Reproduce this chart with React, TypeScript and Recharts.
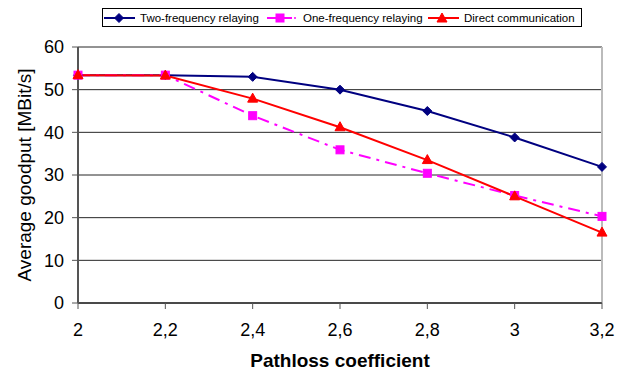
import React from "react";
import { LineChart, Line, XAxis, YAxis, CartesianGrid, ReferenceLine } from "recharts";

const categories = ["2", "2,2", "2,4", "2,6", "2,8", "3", "3,2"];
const twoFrequency = [53.4, 53.4, 53.0, 50.0, 45.0, 38.8, 31.9];
const oneFrequency = [53.4, 53.4, 43.9, 35.9, 30.4, 25.2, 20.3];
const direct = [53.4, 53.3, 47.9, 41.2, 33.5, 25.0, 16.5];
const yTicks = [0, 10, 20, 30, 40, 50, 60];

const data = categories.map((x, i) => ({
  x,
  two: twoFrequency[i],
  one: oneFrequency[i],
  direct: direct[i],
}));

const NAVY = "#000080";
const MAGENTA = "#FF00FF";
const RED = "#FF0000";
const FONT = "'Liberation Sans', Arial, sans-serif";

const Diamond = ({ cx, cy }: any) => (
  <polygon points={`${cx},${cy - 4.5} ${cx + 4.5},${cy} ${cx},${cy + 4.5} ${cx - 4.5},${cy}`} fill={NAVY} stroke={NAVY} />
);
const Square = ({ cx, cy }: any) => (
  <rect x={cx - 4} y={cy - 4} width={8} height={8} fill={MAGENTA} stroke={MAGENTA} />
);
const Triangle = ({ cx, cy }: any) => (
  <polygon points={`${cx},${cy - 5.5} ${cx + 5},${cy + 3.5} ${cx - 5},${cy + 3.5}`} fill={RED} stroke={RED} />
);

const YTitle = ({ viewBox }: any) => {
  const cx = 24;
  const cy = viewBox.y + viewBox.height / 2;
  return (
    <text x={cx} y={cy} transform={`rotate(-90, ${cx}, ${cy})`} textAnchor="middle" dominantBaseline="central"
      fontSize={19} fontFamily={FONT} fill="#000">
      Average goodput [MBit/s]
    </text>
  );
};

const XTitle = ({ viewBox }: any) => {
  const cx = viewBox.x + viewBox.width / 2;
  return (
    <text x={cx} y={367} textAnchor="middle" fontSize={19} fontWeight="bold" fontFamily={FONT} fill="#000">
      Pathloss coefficient
    </text>
  );
};

function LegendBox() {
  const item = (left: number, color: string, marker: React.ReactNode, label: string, dashed?: boolean) => (
    <div style={{ position: "absolute", left, top: 0, height: 17, display: "flex", alignItems: "center" }}>
      <svg width={32} height={12} style={{ display: "block" }}>
        <line x1={1} y1={6} x2={dashed ? 26 : 32} y2={6} stroke={color} strokeWidth={2} />
        {dashed && <circle cx={29} cy={6} r={1} fill={color} />}
        {marker}
      </svg>
      <span style={{ marginLeft: 5, whiteSpace: "nowrap" }}>{label}</span>
    </div>
  );
  return (
    <div style={{
      position: "absolute", left: 102, top: 8, width: 478, height: 17, border: "1px solid #000",
      background: "#fff", fontFamily: FONT, fontSize: 11.5, color: "#000",
    }}>
      {item(0, NAVY, <Diamond cx={16} cy={6} />, "Two-frequency relaying")}
      {item(163, MAGENTA, <Square cx={14} cy={6} />, "One-frequency relaying", true)}
      {item(324, RED, <Triangle cx={15} cy={6.5} />, "Direct communication")}
    </div>
  );
}

export default function App() {
  return (
    <div style={{ position: "absolute", left: 0, top: 0, width: 626, height: 376, background: "#fff" }}>
      <LineChart width={626} height={376} data={data} margin={{ top: 47, right: 24, left: 0, bottom: 13 }}>
        <CartesianGrid horizontal vertical={false} stroke="#000" strokeOpacity={0.85} />
        <XAxis dataKey="x" height={60} stroke="#000" tickSize={6} tickMargin={14}
          tick={{ fontSize: 18, fontFamily: FONT, fill: "#000" }} tickLine={{ stroke: "#555" }}
          label={<XTitle />} />
        <YAxis type="number" domain={[0, 60]} ticks={yTicks} width={78} interval={0}
          axisLine={{ stroke: "#555", strokeWidth: 2 }} tickLine={{ stroke: "#555" }} tickSize={6} tickMargin={8}
          tick={{ fontSize: 18, fontFamily: FONT, fill: "#000" }}
          label={<YTitle />} />
        <ReferenceLine x="3,2" stroke="#bbb" strokeWidth={2} />
        <Line dataKey="two" stroke={NAVY} strokeWidth={2} dot={<Diamond />} isAnimationActive={false} />
        <Line dataKey="one" stroke={MAGENTA} strokeWidth={2} strokeDasharray="12 6 3 6" dot={<Square />} isAnimationActive={false} />
        <Line dataKey="direct" stroke={RED} strokeWidth={2} dot={<Triangle />} isAnimationActive={false} />
      </LineChart>
      <LegendBox />
    </div>
  );
}
